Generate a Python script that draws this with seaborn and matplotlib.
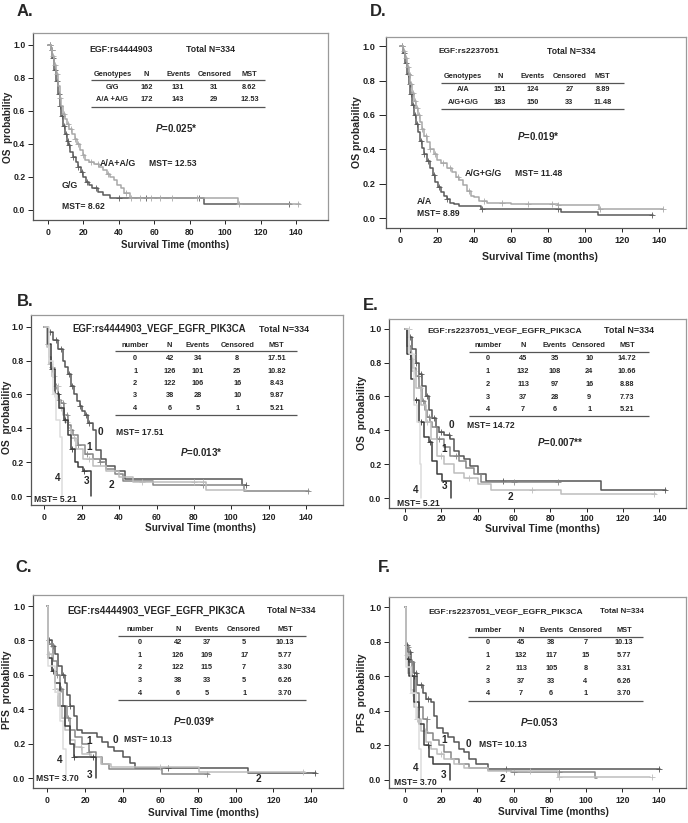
import numpy as np
import pandas as pd
import seaborn as sns
import matplotlib.pyplot as plt

sns.set_theme(style="white")
plt.rcParams["font.family"] = ["Liberation Sans", "DejaVu Sans"]
plt.rcParams["font.weight"] = "bold"
plt.rcParams["mathtext.fontset"] = "custom"
plt.rcParams["mathtext.it"] = "Liberation Sans:italic:bold"
plt.rcParams["mathtext.rm"] = "Liberation Sans:bold"

# ---------------- data ----------------
# Panel A : EGF rs4444903, OS
a_gg_t = [0, 1.5, 2.5, 3.5, 4.5, 5.5, 6.5, 7.5, 8.5, 9.5, 10.5, 11.5, 12.5, 14, 15.5, 17, 18.5, 20, 21.5, 23, 25, 28, 31, 35, 88, 137]
a_gg_s = [1.0, 0.97, 0.92, 0.85, 0.78, 0.70, 0.63, 0.57, 0.51, 0.46, 0.42, 0.39, 0.35, 0.32, 0.29, 0.26, 0.23, 0.20, 0.17, 0.15, 0.13, 0.11, 0.09, 0.075, 0.035, 0.035]
a_gg_c = [1, 2, 3, 4, 5, 6, 7, 8, 9, 10, 11, 12, 14, 17, 19, 22, 27, 40, 55, 85, 136]
a_aa_t = [0, 1.5, 2.5, 3.5, 4.5, 5.5, 6.5, 7.5, 8.5, 9.5, 10.5, 12, 13.5, 15, 16.5, 18, 19.5, 21, 23, 26, 29, 31, 33, 35, 37, 39, 41, 43, 46, 107, 142]
a_aa_s = [1.0, 0.97, 0.93, 0.88, 0.82, 0.75, 0.68, 0.63, 0.58, 0.55, 0.52, 0.49, 0.46, 0.43, 0.40, 0.36, 0.33, 0.30, 0.29, 0.28, 0.26, 0.24, 0.22, 0.20, 0.18, 0.15, 0.13, 0.10, 0.075, 0.035, 0.035]
a_aa_c = [1, 2, 3, 4, 5, 7, 9, 11, 13, 15, 17, 20, 24, 28, 34, 44, 47, 52, 58, 63, 70, 84, 108, 141]
a_geno = ["G/G", "A/A +A/G"]
a_n = [162, 172]
a_events = [131, 143]
a_cens = [31, 29]
a_mst = ["8.62", "12.53"]

# Panel D : EGF rs2237051, OS
d_aa_t = [0, 1.5, 2.5, 3.5, 4.5, 5.5, 6.5, 7.5, 8.5, 9.5, 10.5, 11.5, 13, 14.5, 16, 17.5, 19, 20.5, 22, 23.5, 25, 27, 29, 32, 43.6, 86.8, 106.7, 136.4]
d_aa_s = [1.0, 0.96, 0.90, 0.84, 0.78, 0.72, 0.66, 0.60, 0.55, 0.50, 0.45, 0.41, 0.37, 0.33, 0.29, 0.25, 0.21, 0.18, 0.15, 0.13, 0.11, 0.09, 0.08, 0.07, 0.05, 0.035, 0.015, 0.015]
d_aa_c = [1, 2, 3, 4, 5, 6, 7, 8, 9, 11, 13, 15, 18, 21, 25, 44, 85, 136]
d_ag_t = [0, 1.5, 2.5, 3.5, 4.5, 5.5, 6.5, 7.5, 8.5, 9.5, 10.5, 11.5, 13, 14.5, 16, 18, 20, 22, 25, 28, 30, 32, 34, 36, 38, 40, 42.7, 47, 60, 85, 107.6, 141.8]
d_ag_s = [1.0, 0.97, 0.93, 0.88, 0.83, 0.78, 0.73, 0.68, 0.64, 0.60, 0.56, 0.52, 0.48, 0.44, 0.40, 0.37, 0.34, 0.32, 0.29, 0.27, 0.24, 0.22, 0.19, 0.16, 0.13, 0.12, 0.10, 0.085, 0.08, 0.075, 0.05, 0.05]
d_ag_c = [1, 2, 3, 4, 5, 6, 7, 8, 9, 10, 12, 14, 16, 19, 23, 27, 31, 37, 45, 55, 69, 82, 85, 108, 142]
d_geno = ["A/A", "A/G+G/G"]
d_n = [151, 183]
d_events = [124, 150]
d_cens = [27, 33]
d_mst = ["8.89", "11.48"]

# Panel B : rs4444903 + VEGF/EGFR/PIK3CA, OS (groups 0..4)
b_t = [
    [0, 1.8, 4.5, 7.2, 9.8, 11, 12.5, 14.3, 16, 17.5, 18.8, 20, 21.5, 23.2, 26, 27.7, 30.4, 33, 37.5, 43, 106, 107.8],
    [0, 1.5, 2.7, 3.6, 4.5, 5.5, 7.2, 8, 9, 10.7, 12.5, 14, 15.2, 17.9, 21.5, 26, 29.5, 33, 37.5, 42, 58, 107, 141.5],
    [0, 1.5, 2.7, 4, 5.4, 7.2, 8.5, 9.8, 11, 12.5, 14.3, 17, 20.6, 26, 33, 40, 47.4, 58, 86.7, 108],
    [0, 1.8, 3.6, 5.4, 8, 10.7, 12.5, 14.3, 16.1, 17.9, 20.6, 25],
    [0, 2.7, 4.5, 6.3, 8.4, 9.2],
]
b_s = [
    [1.0, 0.97, 0.92, 0.87, 0.80, 0.76, 0.72, 0.65, 0.60, 0.56, 0.53, 0.50, 0.48, 0.43, 0.39, 0.27, 0.22, 0.18, 0.15, 0.10, 0.065, 0.065],
    [1.0, 0.90, 0.82, 0.76, 0.70, 0.65, 0.60, 0.57, 0.55, 0.48, 0.42, 0.39, 0.36, 0.30, 0.25, 0.22, 0.20, 0.16, 0.13, 0.09, 0.065, 0.03, 0.03],
    [1.0, 0.88, 0.78, 0.71, 0.65, 0.57, 0.52, 0.48, 0.44, 0.40, 0.34, 0.28, 0.22, 0.18, 0.15, 0.11, 0.085, 0.08, 0.035, 0.035],
    [1.0, 0.90, 0.75, 0.60, 0.52, 0.45, 0.36, 0.28, 0.20, 0.17, 0.15, 0.0],
    [1.0, 0.80, 0.60, 0.45, 0.35, 0.0],
]
b_c = [[3, 6, 9, 13, 15, 19, 22, 24, 108], [2, 4, 6, 8, 10, 12, 14, 18, 23, 30, 85, 141], [3, 5, 7, 9, 12, 16, 24, 52, 80, 85], [4, 7, 11, 15, 21], [5]]
b_n = [42, 126, 122, 38, 6]
b_events = [34, 101, 106, 28, 5]
b_cens = [8, 25, 16, 10, 1]
b_mst = ["17.51", "10.82", "8.43", "9.87", "5.21"]

# Panel E : rs2237051 + VEGF/EGFR/PIK3CA, OS
e_t = [
    [0, 2.2, 4, 5.9, 7.7, 9.6, 11.4, 13.2, 15, 17, 18.7, 21.5, 25, 27, 29.8, 32.5, 36, 40, 44.5, 107.8, 143.7],
    [0, 1.3, 3.1, 4.5, 5.9, 7.7, 9.6, 11, 12.3, 13.7, 15, 17.8, 21.5, 25, 29.8, 33.4, 38, 41.7, 84],
    [0, 2.2, 4, 5.9, 8.6, 11.4, 14.1, 17.8, 21.5, 27, 32.5, 40, 47.2, 85.8, 138],
    [0, 1.3, 3.1, 5, 7.7, 10.5, 13.2, 15, 17.8, 20.6, 25.5],
    [0, 2.2, 5, 6.8, 8.3, 9],
]
e_s = [
    [1.0, 0.95, 0.88, 0.80, 0.73, 0.66, 0.60, 0.52, 0.47, 0.42, 0.39, 0.37, 0.35, 0.28, 0.25, 0.23, 0.19, 0.14, 0.10, 0.045, 0.045],
    [1.0, 0.90, 0.82, 0.77, 0.72, 0.65, 0.57, 0.52, 0.48, 0.45, 0.42, 0.35, 0.30, 0.25, 0.22, 0.18, 0.14, 0.095, 0.095],
    [1.0, 0.85, 0.75, 0.65, 0.55, 0.45, 0.35, 0.25, 0.20, 0.15, 0.12, 0.085, 0.05, 0.025, 0.025],
    [1.0, 0.85, 0.70, 0.58, 0.45, 0.36, 0.33, 0.22, 0.14, 0.10, 0.0],
    [1.0, 0.85, 0.55, 0.45, 0.20, 0.0],
]
e_c = [[3, 6, 9, 12, 16, 20, 24, 54, 143], [2, 4, 7, 10, 13, 19, 28, 60, 84], [2, 5, 8, 12, 20, 35, 70, 137], [3, 6, 9, 14], [4]]
e_n = [45, 132, 113, 37, 7]
e_events = [35, 108, 97, 28, 6]
e_cens = [10, 24, 16, 9, 1]
e_mst = ["14.72", "10.66", "8.88", "7.73", "5.21"]

# Panel C : rs4444903 + VEGF/EGFR/PIK3CA, PFS
c_t = [
    [0, 0.5, 2.2, 4, 5.8, 7.6, 9.4, 10.3, 12, 13.9, 15.7, 18.4, 26.5, 29.2, 32, 35.5, 40, 43.6, 46.3, 106.7, 142.7],
    [0, 0.5, 3, 4.9, 6.7, 8.5, 10.3, 12, 14.8, 18.4, 22, 25.6, 29.2, 32.8, 60.7, 86],
    [0, 0.5, 2.2, 4, 5.8, 7.6, 9.4, 12, 14.8, 18.4, 22.9, 28.3, 33.7, 80.5, 137],
    [0, 0.5, 2.2, 4, 6.7, 9.4, 12, 13.9, 25.6],
    [0, 0.5, 4, 6.7, 8.5, 9.9],
]
c_s = [
    [1.0, 0.80, 0.77, 0.72, 0.65, 0.60, 0.55, 0.48, 0.42, 0.36, 0.28, 0.26, 0.24, 0.21, 0.18, 0.16, 0.12, 0.09, 0.06, 0.03, 0.03],
    [1.0, 0.78, 0.68, 0.60, 0.52, 0.42, 0.35, 0.28, 0.24, 0.20, 0.15, 0.12, 0.08, 0.05, 0.025, 0.025],
    [1.0, 0.72, 0.62, 0.52, 0.42, 0.35, 0.28, 0.22, 0.18, 0.14, 0.12, 0.08, 0.065, 0.035, 0.035],
    [1.0, 0.70, 0.62, 0.55, 0.42, 0.30, 0.20, 0.12, 0.0],
    [1.0, 0.65, 0.50, 0.33, 0.17, 0.0],
]
c_c = [[1, 3, 8, 12, 64, 142], [2, 5, 7, 11, 22, 85], [1, 4, 9, 18, 26, 60, 136], [3, 14, 24], [5]]
c_n = [42, 126, 122, 38, 6]
c_events = [37, 109, 115, 33, 5]
c_cens = [5, 17, 7, 5, 1]
c_mst = ["10.13", "5.77", "3.30", "6.26", "3.70"]

# Panel F : rs2237051 + VEGF/EGFR/PIK3CA, PFS
f_t = [
    [0, 0.5, 1.5, 3.3, 5.2, 7, 9.8, 11.6, 14.4, 16.2, 18, 20.8, 23.6, 27.3, 30, 32.8, 35.5, 39.2, 45.7, 140.5],
    [0, 0.5, 2.4, 4.2, 6, 7.9, 9.8, 12.5, 15.3, 19, 21.7, 25.4, 30, 35.5, 45.7, 58.6, 105, 106],
    [0, 0.5, 1.5, 3.3, 5.2, 7, 8.8, 11.6, 14.4, 18, 21.7, 27.3, 32.8, 45.7, 84.3, 135],
    [0, 0.5, 2.4, 5.2, 7.9, 10.7, 13.4, 15.3, 25],
    [0, 0.5, 3.3, 6, 7.9, 9.2],
]
f_s = [
    [1.0, 0.78, 0.74, 0.68, 0.62, 0.55, 0.50, 0.47, 0.45, 0.37, 0.30, 0.27, 0.25, 0.22, 0.18, 0.16, 0.12, 0.09, 0.06, 0.06],
    [1.0, 0.77, 0.68, 0.60, 0.50, 0.42, 0.35, 0.27, 0.23, 0.20, 0.16, 0.12, 0.09, 0.07, 0.055, 0.045, 0.01, 0.01],
    [1.0, 0.72, 0.62, 0.52, 0.42, 0.35, 0.28, 0.22, 0.18, 0.15, 0.12, 0.09, 0.065, 0.05, 0.015, 0.015],
    [1.0, 0.70, 0.60, 0.45, 0.32, 0.20, 0.13, 0.09, 0.0],
    [1.0, 0.65, 0.50, 0.35, 0.18, 0.0],
]
f_c = [[1, 3, 6, 9, 13, 56, 140], [2, 4, 8, 12, 60, 85], [1, 3, 7, 11, 20, 69, 85, 136], [2, 5, 13], [4]]
f_n = [45, 132, 113, 37, 7]
f_events = [38, 117, 105, 33, 6]
f_cens = [7, 15, 8, 4, 1]
f_mst = ["10.13", "5.77", "3.31", "6.26", "3.70"]

group_ids = ["0", "1", "2", "3", "4"]
group_colors = ["#555555", "#868686", "#bdbdbd", "#3c3c3c", "#dcdcdc"]

# ---------------- drawing ----------------
W, H = 688, 823
fig = plt.figure(figsize=(W / 100, H / 100), dpi=100)


def add_ax(l, t, r, b):
    return fig.add_axes([l / W, 1 - b / H, (r - l) / W, (b - t) / H])


def km(ax, t, s, cens, color, lw=1.1):
    df = pd.DataFrame({"time": t, "surv": s})
    sns.lineplot(data=df, x="time", y="surv", drawstyle="steps-post", color=color,
                 lw=lw, estimator=None, sort=False, ax=ax, clip_on=False)
    idx = np.searchsorted(t, cens, side="right") - 1
    ax.plot(cens, np.array(s)[idx], ls="none", marker="+", ms=4, mew=0.6, color=color)


def put(ax, x, y, s, size=6.2, ha="left", **kw):
    ax.text(x, y, s, fontsize=size, ha=ha, va="center", clip_on=False, **kw)


def style(ax, xlim, ylim, size=6.2):
    ax.set_xlim(*xlim)
    ax.set_ylim(*ylim)
    ax.set_xticks(range(0, 141, 20))
    ax.set_yticks(np.arange(0, 1.01, 0.2))
    ax.set_yticklabels([f"{v:.1f}" for v in np.arange(0, 1.01, 0.2)])
    ax.tick_params(axis="x", length=3, width=0.7, pad=3, labelsize=size, colors="#222222", bottom=True)
    ax.tick_params(axis="y", length=3.5, width=0.7, pad=2, labelsize=size, colors="#222222", left=True)
    ax.set_xlabel("")
    ax.set_ylabel("")
    for sp in ax.spines.values():
        sp.set_color("#9a9a9a")
        sp.set_linewidth(0.9)
    for k in ("left", "bottom"):
        ax.spines[k].set_color("#555555")


def table(ax, header, cols, xs, y_head, y_rows, y_lines, x_span, size=5.3):
    for x, h in zip(xs, header):
        put(ax, x, y_head, h, size, "center")
    for y, row in zip(y_rows, zip(*cols)):
        for x, v in zip(xs, row):
            put(ax, x, y, str(v), size, "center")
    ax.hlines(y_lines, x_span[0], x_span[1], color="#555555", lw=0.9, clip_on=False)


def fig_text(x, y, s, size=7.2, rot=0):
    fig.text(x / W, 1 - y / H, s, fontsize=size, rotation=rot, ha="center", va="center")


geno_head = ["Genotypes", "N", "Events", "Censored", "MST"]
num_head = ["number", "N", "Events", "Censored", "MST"]

# ---- A ----
ax = add_ax(33, 33, 328, 220)
km(ax, a_gg_t, a_gg_s, a_gg_c, "#5a5a5a")
km(ax, a_aa_t, a_aa_s, a_aa_c, "#a8a8a8")
style(ax, (-8.5, 158), (-0.061, 1.071))
put(ax, 23.5, 0.974, "EGF:rs4444903", 6.3)
put(ax, 77.6, 0.974, "Total N=334", 6.3)
table(ax, geno_head, [a_geno, a_n, a_events, a_cens, a_mst], [36.3, 55.6, 73.4, 93.8, 113.6],
      0.818, [0.741, 0.671], [0.784, 0.626], (24.5, 122.4))
put(ax, 72.1, 0.495, r"$\mathit{P}$=0.025*", 7, "center")
put(ax, 29.2, 0.283, "A/A+A/G", 6.4)
put(ax, 56.9, 0.283, "MST= 12.53", 6.2)
put(ax, 7.9, 0.145, "G/G", 6.4)
put(ax, 7.9, 0.02, "MST= 8.62", 6.2)
fig_text(25, 12, "A.", 12)
fig_text(8, 127, "OS  probability", 7.2, 90)
fig_text(175, 245, "Survival Time (months)", 7.0)

# ---- D ----
ax = add_ax(386, 37, 686, 228)
km(ax, d_aa_t, d_aa_s, d_aa_c, "#5a5a5a")
km(ax, d_ag_t, d_ag_s, d_ag_c, "#a8a8a8")
style(ax, (-7.7, 154.4), (-0.058, 1.054), size=6.6)
ax.tick_params(axis="y", length=5, pad=2.5)
put(ax, 20.5, 0.967, "EGF:rs2237051", 6.0)
put(ax, 79.1, 0.967, "Total N=334", 6.2)
table(ax, geno_head, [d_geno, d_n, d_events, d_cens, d_mst], [34, 53.9, 71.5, 91.4, 109.4],
      0.822, [0.749, 0.671], [0.787, 0.632], (22, 121))
put(ax, 74.8, 0.478, r"$\mathit{P}$=0.019*", 7, "center")
put(ax, 34.6, 0.261, "A/G+G/G", 6.4)
put(ax, 62, 0.261, "MST= 11.48", 6.2)
put(ax, 9, 0.097, "A/A", 6.4)
put(ax, 9, 0.029, "MST= 8.89", 6.2)
fig_text(378, 12, "D.", 12)
fig_text(357, 132, "OS probability", 7.6, 90)
fig_text(540, 257, "Survival Time (months)", 7.6)

# ---- B ----
ax = add_ax(31, 315, 343, 505)
for t, s, c, col in zip(b_t, b_s, b_c, group_colors):
    km(ax, t, s, c, col)
style(ax, (-7.2, 159.8), (-0.053, 1.069))
put(ax, 15.2, 0.984, "EGF:rs4444903_VEGF_EGFR_PIK3CA", 6.9)
put(ax, 115, 0.984, "Total N=334", 6.4)
table(ax, num_head, [group_ids, b_n, b_events, b_cens, b_mst], [48.6, 67, 82.2, 103.2, 124.3],
      0.888, [0.813, 0.738, 0.665, 0.591, 0.518], [0.856, 0.478], (37.5, 135.3))
put(ax, 30, 0.376, "0", 7.2, "center")
put(ax, 38.4, 0.376, "MST= 17.51", 6.2)
put(ax, 24.1, 0.287, "1", 7.2, "center")
put(ax, 83.7, 0.262, r"$\mathit{P}$=0.013*", 7, "center")
put(ax, 7.2, 0.108, "4", 7.2, "center")
put(ax, 22.3, 0.089, "3", 7.2, "center")
put(ax, 35.8, 0.063, "2", 7.2, "center")
put(ax, -5.5, -0.02, "MST= 5.21", 6.2)
fig_text(25, 301, "B.", 12)
fig_text(7, 417, "OS  probability", 7.4, 90)
fig_text(200, 528, "Survival Time (months)", 7.2)

# ---- E ----
ax = add_ax(389, 319, 686, 508)
for t, s, c, col in zip(e_t, e_s, e_c, group_colors):
    km(ax, t, s, c, col)
style(ax, (-8.8, 154.7), (-0.059, 1.057))
ax.tick_params(axis="x", pad=1.5)
put(ax, 12.3, 0.988, "EGF:rs2237051_VEGF_EGFR_PIK3CA", 6.1)
put(ax, 109.7, 0.988, "Total N=334", 6.4)
table(ax, num_head, [group_ids, e_n, e_events, e_cens, e_mst], [45.7, 65, 82.5, 101.4, 122.2],
      0.9, [0.823, 0.746, 0.669, 0.594, 0.522], [0.862, 0.486], (35.3, 134.5))
put(ax, 25.5, 0.429, "0", 7.2, "center")
put(ax, 34.4, 0.429, "MST= 14.72", 6.2)
put(ax, 21.5, 0.289, "1", 7.2, "center")
put(ax, 85.4, 0.331, r"$\mathit{P}$=0.007**", 7, "center")
put(ax, 5.9, 0.049, "4", 7.2, "center")
put(ax, 21.5, 0.069, "3", 7.2, "center")
put(ax, 58.2, 0.004, "2", 7.2, "center")
put(ax, -4.6, -0.03, "MST= 5.21", 6.2)
fig_text(371, 306, "E.", 12)
fig_text(362, 413, "OS  probability", 7.5, 90)
fig_text(542, 529, "Survival Time (months)", 7.5)

# ---- C ----
ax = add_ax(33, 595, 343, 788)
for t, s, c, col in zip(c_t, c_s, c_c, group_colors):
    km(ax, t, s, c, col)
style(ax, (-7.7, 157), (-0.058, 1.064))
put(ax, 10.3, 0.971, "EGF:rs4444903_VEGF_EGFR_PIK3CA", 7.1)
put(ax, 116.6, 0.971, "Total N=334", 6.2)
table(ax, num_head, [group_ids, c_n, c_events, c_cens, c_mst], [49, 69.2, 84.7, 104.5, 126.1],
      0.861, [0.787, 0.714, 0.64, 0.567, 0.493], [0.826, 0.455], (37.7, 137.3))
put(ax, 77.8, 0.329, r"$\mathit{P}$=0.039*", 7, "center")
put(ax, 35.9, 0.222, "0", 7.2, "center")
put(ax, 40.9, 0.222, "MST= 10.13", 6.2)
put(ax, 22.3, 0.217, "1", 7.2, "center")
put(ax, 6.3, 0.106, "4", 7.2, "center")
put(ax, 22.5, 0.015, "3", 7.2, "center")
put(ax, 112, -0.004, "2", 7.2, "center")
put(ax, -6.2, -0.004, "MST= 3.70", 6.2)
fig_text(24, 568, "C.", 12)
fig_text(7, 690, "PFS  probability", 7.4, 90)
fig_text(203, 813, "Survival Time (months)", 7.2)

# ---- F ----
ax = add_ax(389, 597, 686, 788)
for t, s, c, col in zip(f_t, f_s, f_c, group_colors):
    km(ax, t, s, c, col)
style(ax, (-8.7, 155), (-0.048, 1.058))
put(ax, 13.1, 0.975, "EGF:rs2237051_VEGF_EGFR_PIK3CA", 6.1)
put(ax, 107.4, 0.975, "Total N=334", 5.7)
table(ax, num_head, [group_ids, f_n, f_events, f_cens, f_mst], [45.7, 64.1, 80.7, 99.6, 120.8],
      0.865, [0.792, 0.717, 0.644, 0.571, 0.498], [0.827, 0.458], (35, 131.3))
put(ax, 74.2, 0.333, r"$\mathit{P}$=0.053", 7, "center")
put(ax, 35, 0.206, "0", 7.2, "center")
put(ax, 41.1, 0.206, "MST= 10.13", 6.2)
put(ax, 21.7, 0.231, "1", 7.2, "center")
put(ax, 6.1, 0.067, "4", 7.2, "center")
put(ax, 21.4, 0.029, "3", 7.2, "center")
put(ax, 54, 0.004, "2", 7.2, "center")
put(ax, -5.9, -0.015, "MST= 3.70", 6.2)
fig_text(384, 567, "F.", 12)
fig_text(362, 693, "PFS  probability", 7.4, 90)
fig_text(553, 812, "Survival Time (months)", 7.2)

fig.savefig("out.png", dpi=100)
